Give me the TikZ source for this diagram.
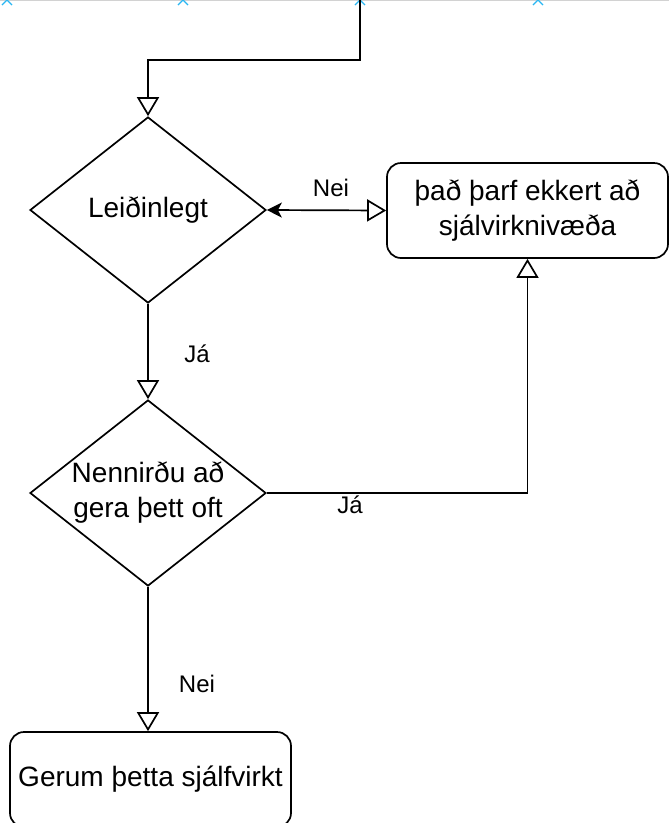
\documentclass[tikz,border=0pt]{standalone}
\usepackage{fontspec}
\setmainfont{Liberation Sans}
\usetikzlibrary{shapes.geometric}
\usetikzlibrary{arrows.meta}
\definecolor{selblue}{RGB}{41,182,242}

\begin{document}
\begin{tikzpicture}[x=1pt,y=-1pt,
  line width=1.7pt,
  txt/.style={font=\fontsize{28}{35}\selectfont},
  lbl/.style={font=\fontsize{24}{28}\selectfont,inner sep=1pt},
  question/.style={draw,diamond,aspect=1.27,inner sep=0pt,minimum width=236pt,minimum height=186pt,align=center,txt},
  answer/.style={draw,rounded corners=14pt,minimum width=281pt,minimum height=95pt,align=center,txt},
  openarrow/.style={-{Triangle[open,length=19pt,width=22pt]}},
  bothways/.style={{Stealth[length=15pt,width=15pt,inset=4pt]}-{Triangle[open,length=19pt,width=22pt]}}]
  \useasboundingbox (0,0) rectangle (669,823);
  \draw[gray!35,line width=0.8pt] (0,0.5) -- (669,0.5);
  \foreach \xm in {7,183,360,538}
    \draw[selblue,line width=1.3pt] (\xm-5,-5) -- (\xm+5,5) (\xm-5,5) -- (\xm+5,-5);
  \coordinate (src) at (360,0);
  \node[question] (leid) at (148,210) {Leiðinlegt};
  \node[answer] (ekkert) at (527.5,210.5) {það þarf ekkert að\\sjálvirknivæða};
  \node[question] (nenn) at (148,493) {Nennirðu að\\gera þett oft};
  \node[answer] (gerum) at (150.5,779.5) {Gerum þetta sjálfvirkt};
  \draw[openarrow] (src) -- ++(0,60) -| (leid.north);
  \draw[bothways] (leid.east) -- (ekkert.west);
  \draw[openarrow] (leid.south) -- (nenn.north);
  \draw[openarrow] (nenn.east) -| (ekkert.south);
  \draw[openarrow] (nenn.south) -- (gerum.north -| nenn.south);
  \node[lbl] (nei1) at (331,188) {Nei};
  \node[lbl] (ja1) at (197,354) {Já};
  \node[lbl,fill=white] (ja2) at (350,505) {Já};
  \node[lbl] (nei2) at (197,684) {Nei};
\end{tikzpicture}
\end{document}
